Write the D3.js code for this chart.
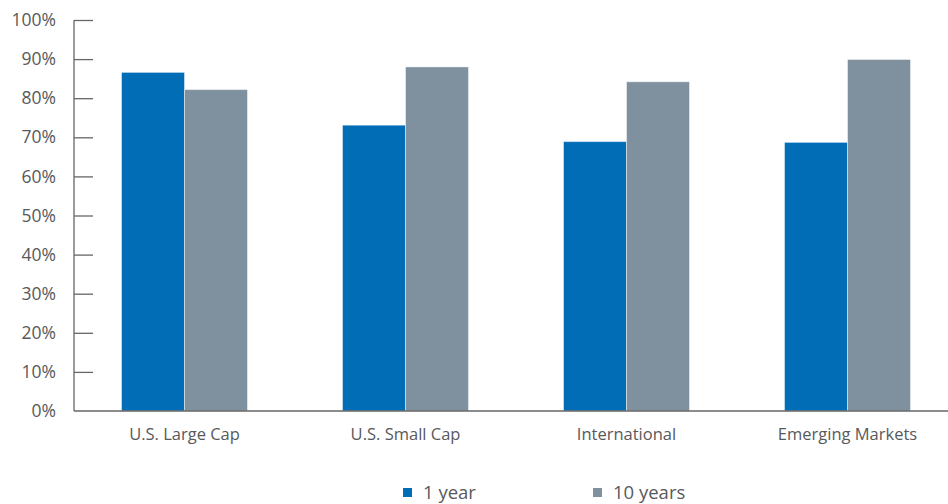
<!DOCTYPE html>
<html><head><meta charset="utf-8">
<script src="https://cdn.jsdelivr.net/npm/d3@7"></script>
<style>body{margin:0;background:#fff}svg{display:block;font-family:"Open Sans",sans-serif}</style>
</head><body><svg id="c" width="948" height="504"></svg>
<script>
const categories = ["U.S. Large Cap","U.S. Small Cap","International","Emerging Markets"];
const seriesNames = ["1 year","10 years"];
const oneYear = [86.6, 73.1, 68.9, 68.7];
const tenYears = [82.2, 88.0, 84.2, 89.9];
const yTicks = [0,10,20,30,40,50,60,70,80,90,100];
const colors = ["#006DB6","#7F919E"];

const svg = d3.select("#c");
const x0 = d3.scaleBand().domain(categories).range([74, 958]).paddingInner(0.43).paddingOuter(0.215);
const x1 = d3.scaleBand().domain(seriesNames).range([0, x0.bandwidth()]);
const y = d3.scaleLinear().domain([0,100]).range([411, 20]);
const data = [oneYear, tenYears];
const textCol = "#58595B";

seriesNames.forEach((s, si) => {
  svg.append("g").selectAll("rect").data(categories).join("rect")
    .attr("x", c => x0(c) + x1(s))
    .attr("y", (c, i) => y(data[si][i]))
    .attr("width", x1.bandwidth())
    .attr("height", (c, i) => y(0) - y(data[si][i]))
    .attr("fill", colors[si])
    .attr("stroke", "rgba(255,255,255,0.45)")
    .attr("stroke-width", 1);
});

const ya = svg.append("g").attr("transform", "translate(74,0)")
  .call(d3.axisRight(y).tickValues(yTicks).tickSize(19).tickFormat(d => d + "%"));
ya.select(".domain").remove();
ya.selectAll(".tick line").attr("stroke", "#666").attr("stroke-width", 1.3);
ya.selectAll(".tick text").attr("x", -18).attr("text-anchor", "end")
  .attr("fill", textCol).attr("font-size", 17.5).attr("font-family", '"Open Sans",sans-serif');
ya.selectAll(".tick").filter(d => d === 0).select("line").remove();
svg.append("line").attr("x1", 74).attr("x2", 74).attr("y1", y(100)).attr("y2", y(0))
  .attr("stroke", "#666").attr("stroke-width", 1.3);

const xa = svg.append("g").attr("transform", "translate(0,411)")
  .call(d3.axisBottom(x0).tickSize(0).tickPadding(17));
xa.select(".domain").remove();
xa.selectAll(".tick text").attr("fill", textCol).attr("font-size", 16.5).attr("font-family", '"Open Sans",sans-serif');
svg.append("line").attr("x1", 74).attr("x2", 948).attr("y1", 411).attr("y2", 411)
  .attr("stroke", "#666").attr("stroke-width", 1.3);

const legX = [403, 593];
seriesNames.forEach((s, i) => {
  const g = svg.append("g").attr("transform", `translate(${legX[i]},488)`);
  g.append("rect").attr("width", 9).attr("height", 9).attr("fill", colors[i]);
  g.append("text").attr("x", 20).attr("y", 11).attr("fill", textCol).attr("font-size", 18.5)
    .text(s);
});
</script></body></html>
